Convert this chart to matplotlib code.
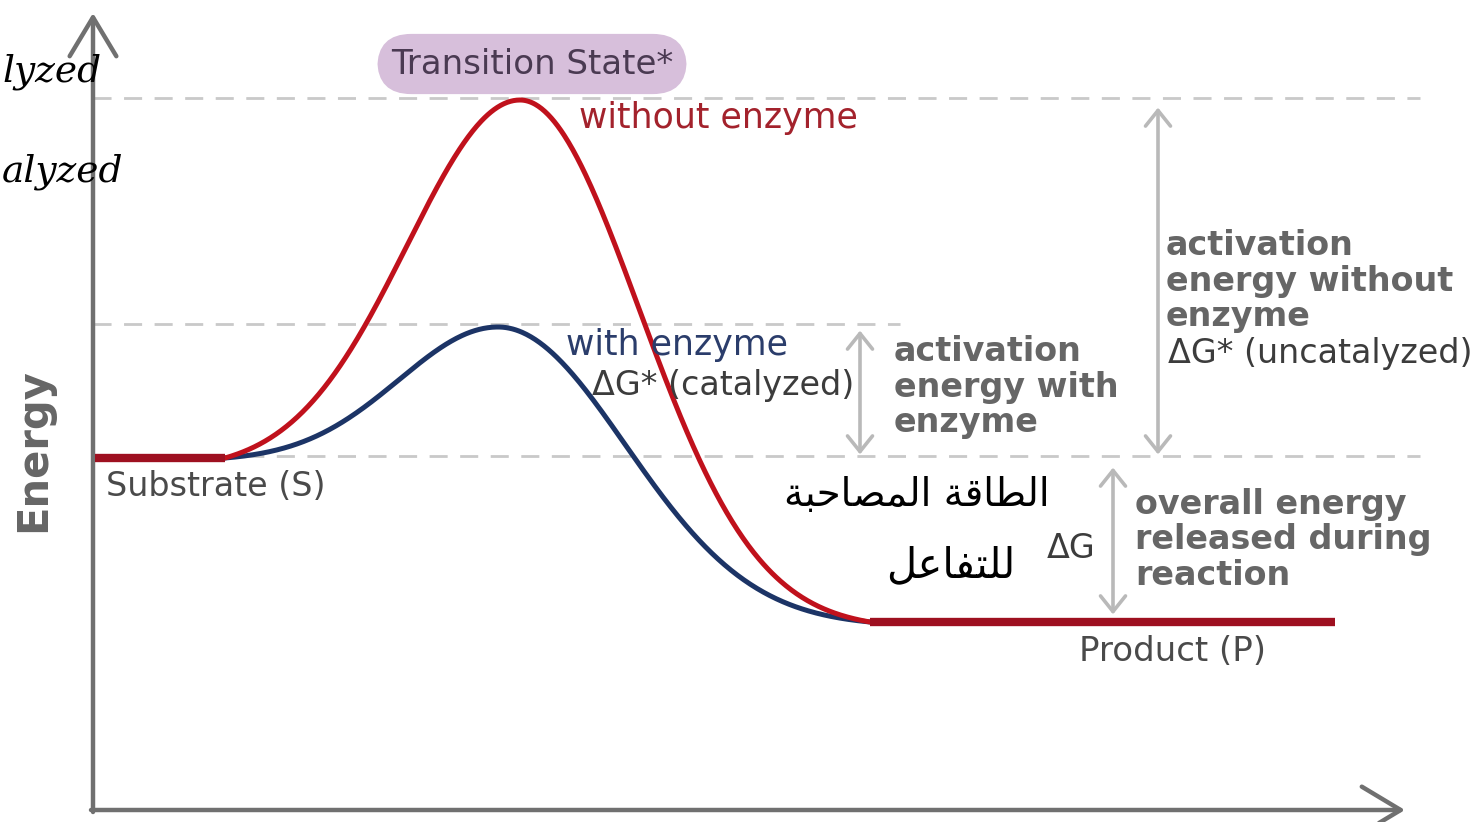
import numpy as np
import matplotlib
matplotlib.use("Agg")
import matplotlib.pyplot as plt

# ---------------- data (reaction coordinate / energy levels, in figure units) ----------------
H = 822
axis_x0 = 93            # origin of the axes
axis_y0 = H - 810
axis_x_end = 1405
axis_y_end = H - 13

reaction_start = 225    # where the reaction leaves the substrate level
reaction_end = 870      # where it reaches the product level
product_line_end = 1335

E_substrate = H - 458
E_product = H - 622
E_ts_uncat = H - 100    # transition state without enzyme
E_ts_cat = H - 327      # transition state with enzyme
x_ts_uncat = 520
x_ts_cat = 498

# barrier shape widths (rise, fall)
w_uncat = (160, 168)
w_cat = (140, 180)

labels = {
    "ts": "Transition State*",
    "uncat": "without enzyme",
    "cat": "with enzyme",
    "dg_cat": "ΔG* (catalyzed)",
    "act_cat": "activation\nenergy with\nenzyme",
    "act_uncat": "activation\nenergy without\nenzyme",
    "dg_uncat": "ΔG* (uncatalyzed)",
    "overall": "overall energy\nreleased during\nreaction",
    "dg": "ΔG",
    "product": "Product (P)",
    "substrate": "Substrate (S)",
    "ylabel": "Energy",
}

# handwritten notes
note_left = ["lyzed", "alyzed"]
note_mid = ["الطاقة المصاحبة", "للتفاعل"]

# ---------------- helpers ----------------
# presentation forms for the handwritten Arabic note (matplotlib does no shaping)
FORMS = {
    # letter: (isolated, final, initial, medial)
    'ا': ('\uFE8D', '\uFE8E', None, None),
    'ل': ('\uFEDD', '\uFEDE', '\uFEDF', '\uFEE0'),
    'ط': ('\uFEC1', '\uFEC2', '\uFEC3', '\uFEC4'),
    'ق': ('\uFED5', '\uFED6', '\uFED7', '\uFED8'),
    'ة': ('\uFE93', '\uFE94', None, None),
    'م': ('\uFEE1', '\uFEE2', '\uFEE3', '\uFEE4'),
    'ص': ('\uFEB9', '\uFEBA', '\uFEBB', '\uFEBC'),
    'ح': ('\uFEA1', '\uFEA2', '\uFEA3', '\uFEA4'),
    'ب': ('\uFE8F', '\uFE90', '\uFE91', '\uFE92'),
    'ت': ('\uFE95', '\uFE96', '\uFE97', '\uFE98'),
    'ف': ('\uFED1', '\uFED2', '\uFED3', '\uFED4'),
    'ع': ('\uFEC9', '\uFECA', '\uFECB', '\uFECC'),
}


def shape_arabic(text):
    out = []
    for word in text.split(' '):
        chars = list(word)
        res = []
        for i, c in enumerate(chars):
            f = FORMS.get(c)
            if f is None:
                res.append(c)
                continue
            prev = FORMS.get(chars[i - 1]) if i > 0 else None
            nxt = FORMS.get(chars[i + 1]) if i + 1 < len(chars) else None
            join_prev = prev is not None and prev[2] is not None
            join_next = nxt is not None and f[2] is not None
            if join_prev and join_next:
                res.append(f[3])
            elif join_prev:
                res.append(f[1])
            elif join_next:
                res.append(f[2])
            else:
                res.append(f[0])
        out.append(''.join(res)[::-1])
    return ' '.join(out[::-1])


def barrier(x, x0, x1, xp, e0, ep, e1, wl, wr):
    y = np.empty_like(x)
    L = x <= xp
    fl = (1 - np.exp(-((xp - x[L]) / wl) ** 2)) / (1 - np.exp(-((xp - x0) / wl) ** 2))
    y[L] = ep - (ep - e0) * fl
    R = ~L
    fr = (1 - np.exp(-((x[R] - xp) / wr) ** 2)) / (1 - np.exp(-((x1 - xp) / wr) ** 2))
    y[R] = ep - (ep - e1) * fr
    return y


# ---------------- figure ----------------
fig = plt.figure(figsize=(14.7, 8.22), dpi=100)
ax = fig.add_axes([0, 0, 1, 1])
ax.set_xlim(0, 1470)
ax.set_ylim(0, H)
ax.axis("off")

DASH = "#c9c9c9"
GRAY_ARROW = "#b9b9b9"
AXIS = "#707070"
RED = "#c0111c"
DARKRED = "#9e1020"
BLUE = "#1c3466"
GRAYTXT = "#666666"
DARKTXT = "#3c3c3c"
FONT = "DejaVu Sans"

# dashed reference levels
ax.plot([axis_x0, 1420], [E_ts_uncat + 2, E_ts_uncat + 2], color=DASH, lw=2,
        ls=(0, (6.5, 4.5)), zorder=1)
ax.plot([axis_x0, 900], [E_ts_cat + 3, E_ts_cat + 3], color=DASH, lw=2,
        ls=(0, (6.5, 4.5)), zorder=1)
ax.plot([axis_x0, 1420], [E_substrate + 2, E_substrate + 2], color=DASH, lw=2,
        ls=(0, (6.5, 4.5)), zorder=1)

# axes with open arrow heads
ax.annotate("", xy=(axis_x0, axis_y_end), xytext=(axis_x0, axis_y0 - 2),
            arrowprops=dict(arrowstyle="->,head_length=0.7,head_width=0.42",
                            color=AXIS, lw=3.2, mutation_scale=40,
                            shrinkA=0, shrinkB=0), zorder=3)
ax.annotate("", xy=(axis_x_end, axis_y0), xytext=(axis_x0 - 2, axis_y0),
            arrowprops=dict(arrowstyle="->,head_length=0.7,head_width=0.42",
                            color=AXIS, lw=3.2, mutation_scale=40,
                            shrinkA=0, shrinkB=0), zorder=3)

# curves
xs = np.linspace(reaction_start, reaction_end, 600)
y_cat = barrier(xs, reaction_start, reaction_end, x_ts_cat,
                E_substrate, E_ts_cat, E_product, *w_cat)
y_uncat = barrier(xs, reaction_start, reaction_end, x_ts_uncat,
                  E_substrate, E_ts_uncat, E_product, *w_uncat)
ax.plot(xs, y_cat, color=BLUE, lw=3.6, zorder=4, solid_capstyle="round")
ax.plot(xs, y_uncat, color=RED, lw=3.6, zorder=5, solid_capstyle="round")
ax.plot([axis_x0 + 2, reaction_start], [E_substrate, E_substrate], color=DARKRED,
        lw=6, zorder=6, solid_capstyle="butt")
ax.plot([reaction_end, product_line_end], [E_product, E_product], color=DARKRED,
        lw=6, zorder=6, solid_capstyle="butt")

# double arrows
def darrow(x, e_top, e_bot):
    ax.annotate("", xy=(x, e_top), xytext=(x, e_bot),
                arrowprops=dict(arrowstyle="<->,head_length=0.45,head_width=0.36",
                                color=GRAY_ARROW, lw=2.6, mutation_scale=25,
                                shrinkA=4, shrinkB=4), zorder=3)

darrow(860, E_ts_cat + 2, E_substrate - 2)
darrow(1158, E_ts_uncat - 2, E_substrate - 2)
darrow(1113, E_substrate - 4, E_product + 2)

# text labels
ax.text(532, H - 64, labels["ts"], fontsize=24.5, color="#4a3a52", family=FONT,
        ha="center", va="center", zorder=8,
        bbox=dict(boxstyle="round,pad=0.4,rounding_size=1.0", fc="#d7bfdb",
                  ec="none"))
ax.text(579, H - 118, labels["uncat"], fontsize=25, color="#a3222c", family=FONT,
        ha="left", va="center", zorder=8)
ax.text(566, H - 345, labels["cat"], fontsize=25, color="#2b3d6b", family=FONT,
        ha="left", va="center", zorder=8)
ax.text(592, H - 386, labels["dg_cat"], fontsize=24, color=DARKTXT, family=FONT,
        ha="left", va="center", zorder=8)
ax.text(894, H - 387, labels["act_cat"], fontsize=24, color=GRAYTXT, family=FONT,
        weight="bold", ha="left", va="center", linespacing=1.08, zorder=8)
ax.text(1166, H - 281, labels["act_uncat"], fontsize=24, color=GRAYTXT, family=FONT,
        weight="bold", ha="left", va="center", linespacing=1.08, zorder=8)
ax.text(1168, H - 353, labels["dg_uncat"], fontsize=24, color=DARKTXT, family=FONT,
        ha="left", va="center", zorder=8)
ax.text(1135, H - 540, labels["overall"], fontsize=24, color=GRAYTXT, family=FONT,
        weight="bold", ha="left", va="center", linespacing=1.1, zorder=8)
ax.text(1071, H - 548, labels["dg"], fontsize=24, color=DARKTXT, family=FONT,
        ha="center", va="center", zorder=8)
ax.text(1173, H - 651, labels["product"], fontsize=24.5, color="#4a4a4a", family=FONT,
        ha="center", va="center", zorder=8)
ax.text(106, H - 486, labels["substrate"], fontsize=24, color="#4a4a4a", family=FONT,
        ha="left", va="center", zorder=8)
ax.text(33, H - 450, labels["ylabel"], fontsize=30, color=GRAYTXT, family=FONT,
        weight="bold", rotation=90, ha="center", va="center", zorder=8)

# handwritten notes
ax.text(2, H - 72, note_left[0], fontsize=27, color="black", family="DejaVu Serif",
        style="italic", ha="left", va="center", zorder=9)
ax.text(2, H - 172, note_left[1], fontsize=27, color="black", family="DejaVu Serif",
        style="italic", ha="left", va="center", zorder=9)
ax.text(1050, H - 495, shape_arabic(note_mid[0]), fontsize=28, color="black",
        family="DejaVu Sans", ha="right", va="center", zorder=9)
ax.text(1015, H - 565, shape_arabic(note_mid[1]), fontsize=30, color="black",
        family="DejaVu Sans", ha="right", va="center", zorder=9)

fig.savefig("out.png", dpi=100, facecolor="white")
